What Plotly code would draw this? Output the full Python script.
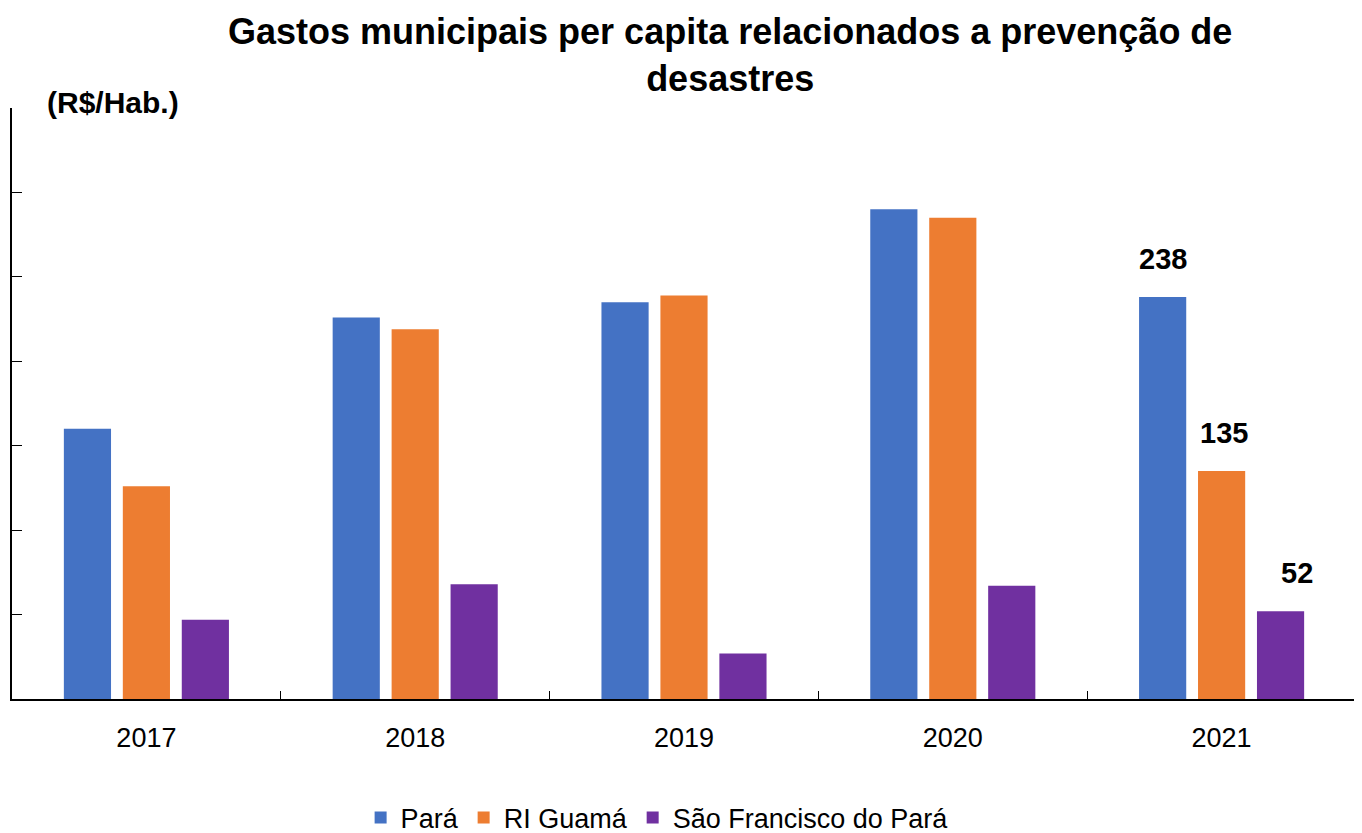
import plotly.graph_objects as go

years = ["2017", "2018", "2019", "2020", "2021"]
para = [160, 226, 235, 290, 238]
ri_guama = [126, 219, 239, 285, 135]
sao_francisco = [47, 68, 27, 67, 52]
series_names = ["Pará", "RI Guamá", "São Francisco do Pará"]
colors = ["#4472C4", "#ED7D31", "#7030A0"]
label_year = "2021"

FONT = "Liberation Sans, Arial, sans-serif"

# page has an 8px body margin, so the figure is sized to fit the window
W, H = 1354, 825
ML, MR, MT, MB = 4, 6, 100, 134
BARGAP, BARGROUPGAP = 0.342, 0.2
LABEL_DX = [0, 2, 16]

fig = go.Figure()
for name, vals, col in zip(series_names, [para, ri_guama, sao_francisco], colors):
    fig.add_trace(go.Bar(
        x=years, y=vals, name=name, marker=dict(color=col, line=dict(width=0)),
        hoverinfo="x+y+name",
    ))

# data labels for the last year, placed over each grouped bar
cat_px = (W - ML - MR) / len(years)
slot_px = cat_px * (1 - BARGAP) / len(series_names)
annotations = []
idx = years.index(label_year)
for i, vals in enumerate([para, ri_guama, sao_francisco]):
    offset = (i - (len(series_names) - 1) / 2) * slot_px + LABEL_DX[i]
    annotations.append(dict(
        x=idx, y=vals[idx], xref="x", yref="y", text=f"<b>{vals[idx]}</b>",
        showarrow=False, xanchor="center", yanchor="bottom", xshift=offset, yshift=20,
        font=dict(family=FONT, size=29, color="black"),
    ))

annotations += [
    dict(text="<b>Gastos municipais per capita relacionados a prevenção de<br>desastres</b>",
         xref="paper", yref="paper", x=0.534, y=1.0, yshift=99, xanchor="center", yanchor="top",
         showarrow=False, font=dict(family=FONT, size=36, color="black"), align="center"),
    dict(text="<b>(R$/Hab.)</b>", xref="paper", yref="paper", x=0.0246, y=1.0, yshift=6,
         xanchor="left", yanchor="middle", showarrow=False,
         font=dict(family=FONT, size=30, color="black")),
]

fig.update_layout(
    width=W, height=H,
    paper_bgcolor="white", plot_bgcolor="white",
    margin=dict(l=ML, r=MR, t=MT, b=MB, autoexpand=False),
    barmode="group", bargap=BARGAP, bargroupgap=BARGROUPGAP,
    font=dict(family=FONT, size=20, color="black"),
    showlegend=True,
    legend=dict(orientation="h", x=0.48, xanchor="center", y=-0.16, yanchor="top",
                font=dict(family=FONT, size=27, color="black"), itemwidth=30,
                traceorder="normal"),
    xaxis=dict(type="category", showline=True, linecolor="black", linewidth=1.5,
               ticks="inside", ticklen=8, tickcolor="black", tickson="boundaries",
               tickfont=dict(family=FONT, size=27, color="black"), showgrid=False,
               ticklabelstandoff=14, automargin=False),
    yaxis=dict(range=[0, 350], dtick=50, showline=True, linecolor="black", linewidth=1.5,
               ticks="inside", ticklen=10, tickcolor="black", showticklabels=False,
               showgrid=False, zeroline=False, automargin=False),
    annotations=annotations,
)

fig.write_html("out.html")
